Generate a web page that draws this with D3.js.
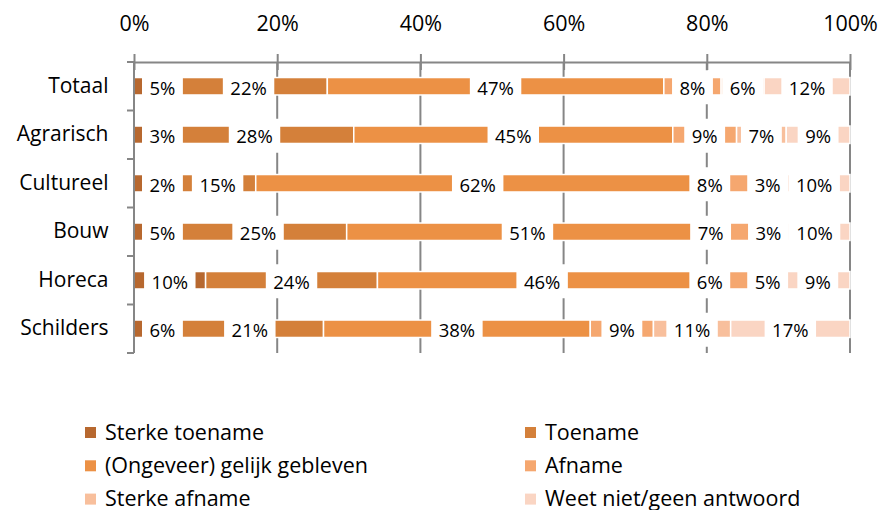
<!DOCTYPE html>
<html>
<head>
<meta charset="utf-8">
<script src="https://cdn.jsdelivr.net/npm/d3@7"></script>
<style>
  html, body { margin: 0; padding: 0; background: #fff; }
  svg { display: block; font-family: "Open Sans", sans-serif; }
</style>
</head>
<body>
<svg id="chart" width="885" height="510"></svg>
<script>
// ---- data ----
const categories = ["Totaal", "Agrarisch", "Cultureel", "Bouw", "Horeca", "Schilders"];
const seriesNames = ["Sterke toename", "Toename", "(Ongeveer) gelijk gebleven", "Afname", "Sterke afname", "Weet niet/geen antwoord"];
const sterkeToename = [5, 3, 2, 5, 10, 6];
const toename       = [22, 28, 15, 25, 24, 21];
const gelijk        = [47, 45, 62, 51, 46, 38];
const afname        = [8, 9, 8, 7, 6, 9];
const sterkeAfname  = [6, 7, 3, 3, 5, 11];
const weetNiet      = [12, 9, 10, 10, 9, 17];
const seriesColors  = ["#b7682f", "#d4803a", "#ec9145", "#f5a76f", "#f8bf9c", "#fad5c3"];
const tickValues    = [0, 0.2, 0.4, 0.6, 0.8, 1.0];
const tickLabels    = ["0%", "20%", "40%", "60%", "80%", "100%"];

(function () {
// ---- build table ----
const seriesValues = [sterkeToename, toename, gelijk, afname, sterkeAfname, weetNiet];
const table = categories.map((c, i) => {
  const row = { cat: c };
  seriesNames.forEach((s, j) => row[s] = seriesValues[j][i]);
  return row;
});

const svg = d3.select("#chart");
const pLeft = 134, pRight = 850, pTop = 62, pBottom = 353;

const x = d3.scaleLinear().domain([0, 1]).range([pLeft, pRight]);
const y = d3.scaleBand().domain(categories).range([pTop, pBottom])
  .paddingInner(0.64).paddingOuter(0.32);
const color = d3.scaleOrdinal().domain(seriesNames).range(seriesColors);

const stacked = d3.stack().keys(seriesNames).offset(d3.stackOffsetExpand)(table);

const gridColor = "#868686";

// gridlines
svg.append("g").selectAll("line")
  .data(tickValues.slice(1))
  .join("line")
  .attr("x1", d => x(d)).attr("x2", d => x(d))
  .attr("y1", pTop).attr("y2", pBottom)
  .attr("stroke", gridColor).attr("stroke-width", 2);

// bars
const barG = svg.append("g");
stacked.forEach(layer => {
  barG.append("g").attr("fill", color(layer.key))
    .selectAll("rect").data(layer).join("rect")
    .attr("x", d => x(d[0]))
    .attr("width", d => Math.max(0, x(d[1]) - x(d[0])))
    .attr("y", d => y(d.data.cat))
    .attr("height", y.bandwidth())
    .attr("stroke", "#fff").attr("stroke-width", 1.5);
});

// data labels with white boxes
const labelG = svg.append("g");
const boxG = labelG.append("g");
const textG = labelG.append("g");
const step = y.step();
const mid = x(0.5);
categories.forEach((cat, i) => {
  const cy = y(cat) + y.bandwidth() / 2;
  const items = stacked.map(layer => {
    const d = layer[i];
    const v = d.data[layer.key];
    const t = textG.append("text")
      .attr("font-size", 18.5).attr("fill", "#000")
      .attr("text-anchor", "middle")
      .text(v + "%");
    const w = t.node().getComputedTextLength() + 15;
    return { t, w, c: x((d[0] + d[1]) / 2) };
  });
  // keep first label off the axis
  const minLeft = pLeft + 8;
  if (items[0].c - items[0].w / 2 < minLeft) items[0].c = minLeft + items[0].w / 2;
  // left half: push overlapping labels to the right
  for (let k = 1; k < items.length; k++) {
    const a = items[k - 1], b = items[k];
    if (b.c < mid && (a.c + a.w / 2) - (b.c - b.w / 2) > 1) b.c = (a.c + a.w / 2) + 9 + b.w / 2;
  }
  // right half: push overlapping labels to the left
  for (let k = items.length - 2; k >= 0; k--) {
    const a = items[k], b = items[k + 1];
    if (a.c >= mid && (a.c + a.w / 2) - (b.c - b.w / 2) > 1) a.c = (b.c - b.w / 2) - 17 - a.w / 2;
  }
  items.forEach(it => {
    boxG.append("rect")
      .attr("x", it.c - it.w / 2).attr("width", it.w)
      .attr("y", cy + 1 - 17).attr("height", 34)
      .attr("fill", "#fff");
    it.t.attr("x", it.c).attr("y", cy + 8.5);
  });
});

// top axis
const topAxis = svg.append("g").attr("transform", `translate(0,${pTop})`)
  .call(d3.axisTop(x).tickValues(tickValues).tickFormat((d, i) => tickLabels[i])
    .tickSize(8).tickSizeOuter(0).tickPadding(23));
topAxis.select(".domain").attr("stroke", gridColor).attr("stroke-width", 2);
topAxis.selectAll(".tick line").attr("stroke", gridColor).attr("stroke-width", 2)
  .attr("y2", 8).attr("y1", -8);
topAxis.selectAll("text").attr("font-size", 21.5).attr("fill", "#000")
  .attr("font-family", "Open Sans, sans-serif");

// left axis
const leftAxis = svg.append("g").attr("transform", `translate(${pLeft},0)`)
  .call(d3.axisLeft(y).tickSize(0).tickPadding(25.5));
leftAxis.select(".domain").remove();
leftAxis.selectAll("text").attr("font-size", 21).attr("fill", "#000")
  .attr("font-family", "Open Sans, sans-serif");
svg.append("line").attr("x1", pLeft).attr("x2", pLeft).attr("y1", pTop - 1).attr("y2", pBottom)
  .attr("stroke", gridColor).attr("stroke-width", 2);
const boundaries = categories.map(c => y(c) - step * y.paddingInner() / 2).concat([pBottom]);
svg.append("g").selectAll("line").data(boundaries).join("line")
  .attr("x1", pLeft - 7).attr("x2", pLeft)
  .attr("y1", d => d).attr("y2", d => d)
  .attr("stroke", gridColor).attr("stroke-width", 2);

// legend
const legend = svg.append("g");
seriesNames.forEach((s, i) => {
  const col = i % 2, row = Math.floor(i / 2);
  const gx = col === 0 ? 85 : 525;
  const gy = 432.5 + row * 33.3;
  legend.append("rect").attr("x", gx).attr("y", gy - 5.5).attr("width", 11).attr("height", 11)
    .attr("fill", color(s));
  legend.append("text").attr("x", gx + 20).attr("y", gy + 7)
    .attr("font-size", 21.5).attr("fill", "#000").text(s);
});
})();
</script>
</body>
</html>
